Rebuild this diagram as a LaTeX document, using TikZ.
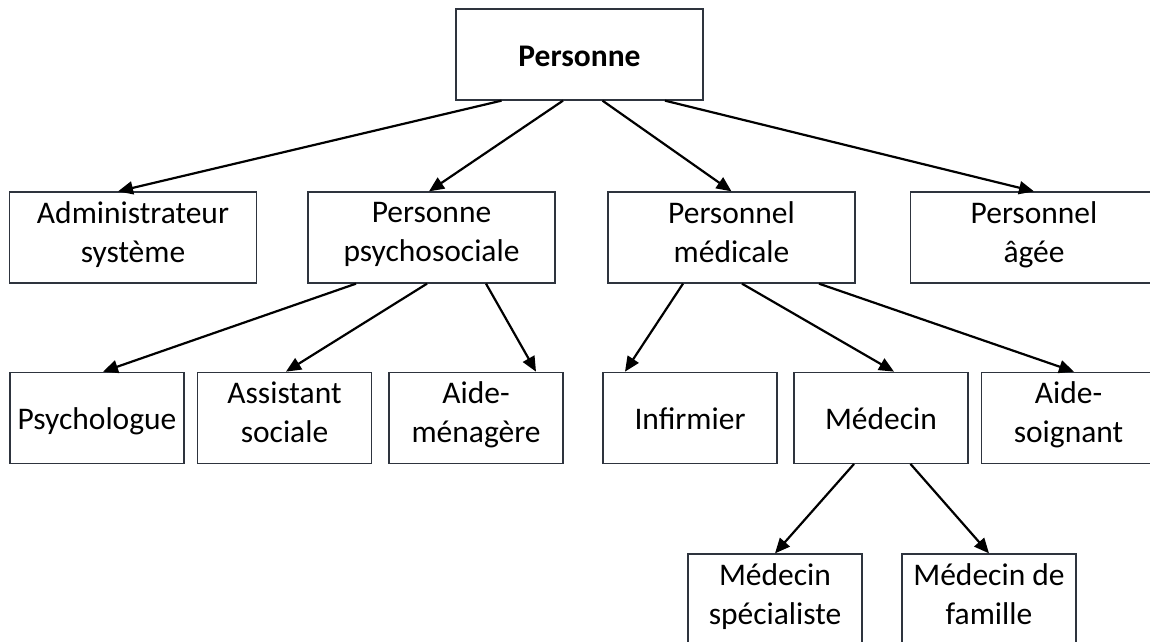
\documentclass[tikz,border=0pt]{standalone}
\usepackage{fontspec}
\setmainfont{Carlito}
\usepackage{xcolor}
\usetikzlibrary{arrows.meta,positioning,calc}
\definecolor{boxline}{RGB}{46,52,62}
\newcommand\tallstrut{\rule{0pt}{36pt}}

\begin{document}
\begin{tikzpicture}[x=1pt,y=-1pt,font=\fontsize{31.5}{39}\selectfont,
  bx/.style={draw=boxline,line width=1.3pt,align=center,inner sep=0pt,minimum height=91pt,
    execute at begin node={\tallstrut},execute at end node={\strut}},
  wide/.style={bx,minimum width=247pt},
  narrow/.style={bx,minimum width=174pt},
  ed/.style={-{Triangle[length=15pt,width=13pt]},line width=2.2pt}]
\useasboundingbox (0,0) rectangle (1150,641);
\node[wide,execute at begin node={\strut}] (root) at (579.5,54.5) {\textbf{Personne}};
\node[wide] (admin) at (133,237.5) {Administrateur\\système};
\node[wide] (psy) at (431.5,237.5) {Personne\\psychosociale};
\node[wide] (med) at (731.5,237.5) {Personnel\\médicale};
\node[wide] (agee) at (1034,237.5) {Personnel\\âgée};
\node[narrow] (psylog) at (97,417.8) {Psychologue};
\node[narrow] (assist) at (284.5,417.8) {Assistant\\sociale};
\node[narrow] (menag) at (476,417.8) {Aide-\\ménagère};
\node[narrow] (infirm) at (690,417.8) {Infirmier};
\node[narrow] (medecin) at (881,417.8) {Médecin};
\node[narrow] (soign) at (1068.5,417.8) {Aide-\\soignant};
\node[narrow] (spec) at (775,599.5) {Médecin\\spécialiste};
\node[narrow] (famil) at (989,599.5) {Médecin de\\famille};
\draw[ed] ([xshift=-78pt]root.south) -- ([xshift=-15pt]admin.north);
\draw[ed] ([xshift=-16.5pt]root.south) -- ([xshift=-2.5pt]psy.north);
\draw[ed] ([xshift=23pt]root.south) -- (med.north);
\draw[ed] ([xshift=85.5pt]root.south) -- (agee.north);
\draw[ed] ([xshift=-75.5pt]psy.south) -- ([xshift=6pt]psylog.north);
\draw[ed] ([xshift=-4.5pt]psy.south) -- ([xshift=1.5pt]assist.north);
\draw[ed] ([xshift=54.5pt]psy.south) -- ([xshift=60pt]menag.north);
\draw[ed] ([xshift=-48.5pt]med.south) -- ([xshift=-65pt]infirm.north);
\draw[ed] ([xshift=10.5pt]med.south) -- ([xshift=13pt]medecin.north);
\draw[ed] ([xshift=87.5pt]med.south) -- ([xshift=5.5pt]soign.north);
\draw[ed] ([xshift=-27pt]medecin.south) -- (spec.north);
\draw[ed] ([xshift=29.5pt]medecin.south) -- (famil.north);
\end{tikzpicture}
\end{document}
